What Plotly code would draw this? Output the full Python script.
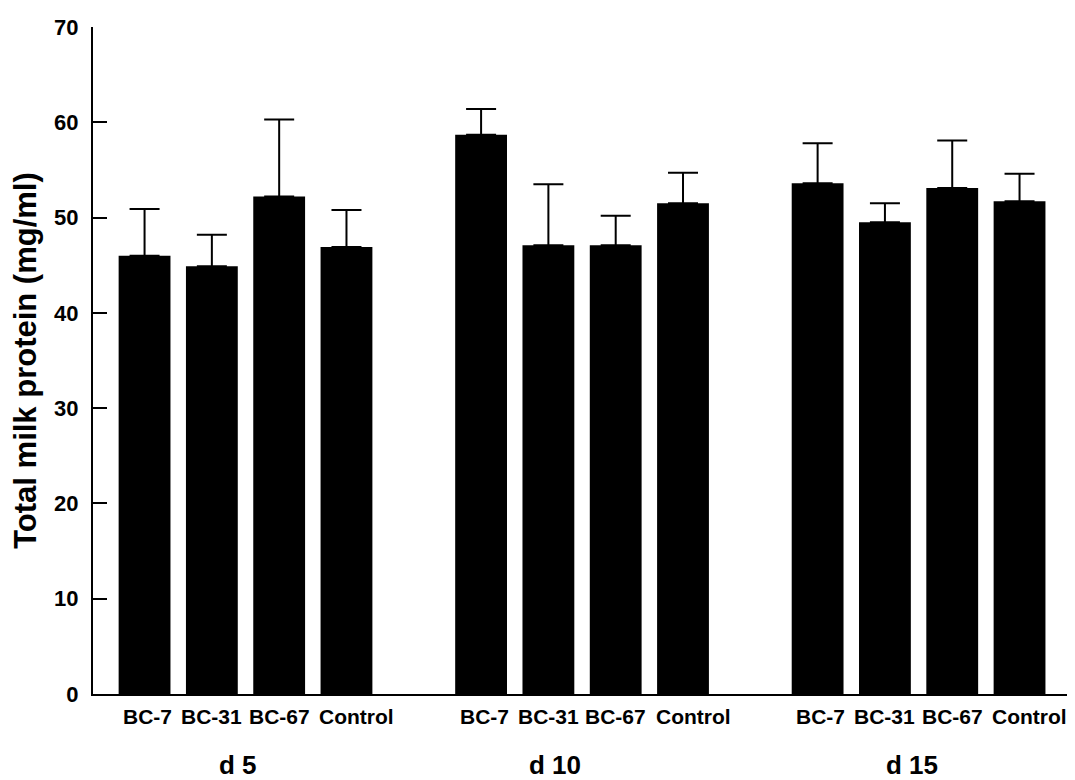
import plotly.graph_objects as go

# ---- data ----
groups = ["d 5", "d 10", "d 15"]
treatments = ["BC-7", "BC-31", "BC-67", "Control"]
mean_d5 = [46.0, 44.9, 52.2, 46.9]
mean_d10 = [58.7, 47.1, 47.1, 51.5]
mean_d15 = [53.6, 49.5, 53.1, 51.7]
upper_d5 = [50.9, 48.2, 60.3, 50.8]
upper_d10 = [61.4, 53.5, 50.2, 54.7]
upper_d15 = [57.8, 51.5, 58.1, 54.6]
y_ticks = [0, 10, 20, 30, 40, 50, 60, 70]

means = mean_d5 + mean_d10 + mean_d15
uppers = upper_d5 + upper_d10 + upper_d15

# slot positions: 4 bars per group, one empty slot between groups
xpos = []
for g in range(len(groups)):
    for t in range(len(treatments)):
        xpos.append(g * (len(treatments) + 1) + t)
labels = treatments * len(groups)
err_plus = [u - m for u, m in zip(uppers, means)]

FONT = "Liberation Sans, Arial, Helvetica, sans-serif"

fig = go.Figure()
fig.add_trace(go.Bar(
    x=xpos, y=means, width=0.77,
    marker=dict(color="black", line=dict(width=0)),
    error_y=dict(type="data", symmetric=False, array=err_plus,
                 arrayminus=[0] * len(err_plus),
                 color="black", thickness=2, width=15),
    showlegend=False,
))

# category labels under each bar (small nudges as in the original typesetting)
cat_shift = {"BC-7": 3, "BC-31": 0, "BC-67": 0, "Control": 10}
for x, lab in zip(xpos, labels):
    fig.add_annotation(x=x, y=-0.034, xref="x", yref="paper", text=lab,
                       showarrow=False, xshift=cat_shift[lab], yanchor="middle",
                       font=dict(family=FONT, size=21, color="black", weight="bold"))

group_centers = [g * (len(treatments) + 1) + (len(treatments) - 1) / 2 for g in range(len(groups))]
label_shift = [-8, -27, -7]
for gc, name, sh in zip(group_centers, groups, label_shift):
    fig.add_annotation(x=gc, y=-0.106, xref="x", yref="paper", text=name,
                       showarrow=False, xshift=sh, yanchor="middle",
                       font=dict(family=FONT, size=26, color="black", weight="bold"))

fig.update_layout(
    width=1067, height=772,
    margin=dict(l=85, r=7, t=16, b=86),
    paper_bgcolor="white", plot_bgcolor="white",
    font=dict(family=FONT, color="black"),
    xaxis=dict(range=[-0.766, 13.72], tickvals=xpos, showticklabels=False,
               showgrid=False, zeroline=False, showline=True,
               linecolor="black", linewidth=2, ticks=""),
    yaxis=dict(range=[0, 70], tickvals=y_ticks, showgrid=False, zeroline=False,
               showline=True, linecolor="black", linewidth=2,
               ticks="inside", ticklen=14, tickwidth=1.5, tickcolor="black",
               ticklabelstandoff=8,
               tickfont=dict(family=FONT, size=22, color="black", weight="bold"),
               title=dict(text="Total milk protein (mg/ml)", standoff=8,
                          font=dict(family=FONT, size=31, color="black", weight="bold"))),
)

fig.write_html("out.html")
